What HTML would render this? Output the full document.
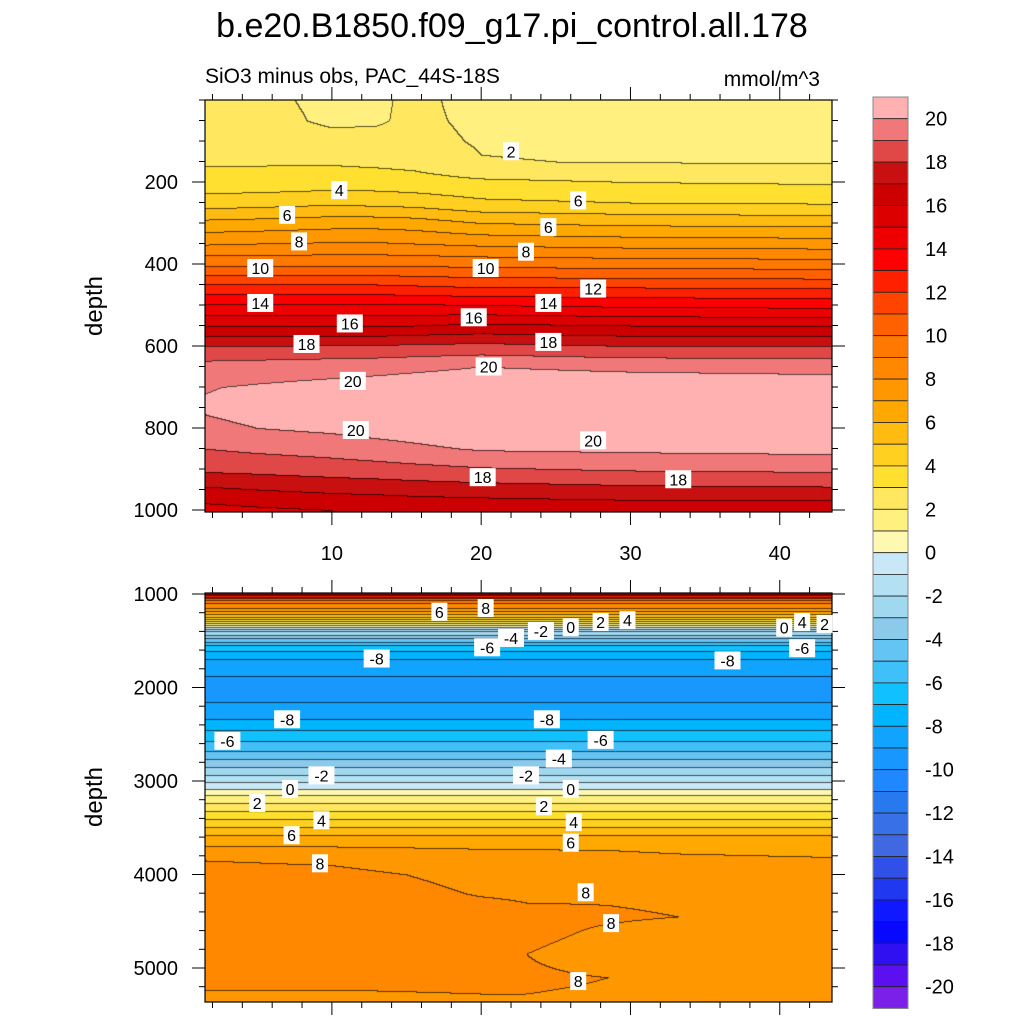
<!DOCTYPE html>
<html><head><meta charset="utf-8"><style>
body{margin:0;background:#fff;width:1024px;height:1024px;overflow:hidden;position:relative;font-family:"Liberation Sans",sans-serif}
canvas{position:absolute}
svg{position:absolute;left:0;top:0}
</style></head><body>
<canvas id="c1" width="627" height="412" style="left:205px;top:100px"></canvas>
<canvas id="c2" width="627" height="409" style="left:205px;top:593px"></canvas>
<svg id="s" width="1024" height="1024">
<text x="512" y="37" font-size="34" text-anchor="middle">b.e20.B1850.f09_g17.pi_control.all.178</text>
<text x="205" y="83" font-size="21">SiO3 minus obs, PAC_44S-18S</text>
<text x="820" y="86" font-size="21" text-anchor="end">mmol/m^3</text>
<text transform="translate(102,306) rotate(-90)" font-size="24" text-anchor="middle">depth</text>
<text transform="translate(102,797) rotate(-90)" font-size="24" text-anchor="middle">depth</text>
</svg>
<script>
const colors=["#7a20e8","#5a10f0","#3010f0","#0808ff","#1018ff","#2038f0","#3050e8","#4068e0","#3870e8","#2878f0","#2088ff","#1898ff","#10a4ff","#00b4ff","#10c0ff","#40c0f8","#64c4f4","#8ccaec","#a0d8f0","#b4e0f4","#c8e8f8","#fff8b0","#fff080","#ffe860","#ffe030","#ffd020","#ffbb10","#ffa800","#ff9800","#ff8800","#ff7800","#ff6000","#ff4400","#ff2000","#ff0000","#ee0000","#dc0000","#cc0000","#c81010","#e04848","#f07878","#ffb0b0"];
// top panel data
const topX=[1.5,5,10,13,15.5,20,30,43.5];
const topDepth=[0,50,100,150,200,250,300,350,400,450,500,550,600,650,700,750,800,850,900,950,1000];
const topVals=[
[2.2,2.3,2.5,2.9,3.4,4.5,6.3,7.9,9.8,12,14.1,15.9,18.0,19.4,19.95,20.1,19.8,19.0,18.2,16.8,15.6],
[2.2,2.3,2.5,2.9,3.4,4.6,6.4,8.0,9.8,12,14.1,15.9,18.0,19.5,20.1,20.3,20.0,19.2,18.3,17.0,15.8],
[1.8,1.85,2.3,2.9,3.5,4.8,6.6,8.1,9.8,12,14.1,15.9,18.1,19.6,20.3,20.5,20.2,19.4,18.5,17.2,16.0],
[1.85,1.9,2.3,2.8,3.5,4.7,6.6,8.1,9.8,12,14.1,15.9,18.1,19.7,20.4,20.6,20.4,19.6,18.6,17.3,16.0],
[2.2,2.2,2.3,2.7,3.4,4.6,6.5,8,9.8,11.9,14.1,16,18.2,19.8,20.5,20.7,20.5,19.8,18.7,17.4,16.1],
[1.7,1.8,1.9,2.05,3.2,4.2,6.0,7.8,9.7,11.7,14.0,16.2,18.3,20.0,20.6,20.8,20.8,20.1,18.9,17.5,16.2],
[1.6,1.7,1.8,1.95,3.0,4.0,5.8,7.6,9.6,11.7,13.8,16.0,18.0,19.8,20.6,20.8,20.8,20.2,19.1,17.7,16.3],
[1.6,1.7,1.8,1.95,2.9,3.9,5.7,7.5,9.5,11.6,13.7,15.9,18.0,19.7,20.5,20.8,20.8,20.3,19.2,17.8,16.3]];
// bottom panel data
const botShallowDepth=[1000,1050,1100,1150,1200,1250,1300,1350,1400,1470,1550,1650,1750,1900,2000,2100,2200,2340,2450,2570,2680,2760,2850,2940,3000,3085,3150,3235,3320,3410,3490,3580];
const botShallowVals=[14,10.5,9,8,6.5,5,2.5,0.3,-2,-4,-6,-7.6,-8.4,-9.1,-9.3,-9.2,-8.8,-8,-7,-6,-5,-4,-3,-2,-1.2,0,1,2,3,4,5,6];
const botX=[1.5,10,20,23,28.5,33.2,43.5];
const botDeepDepth=[3700,3850,4000,4200,4300,4450,4600,4850,5100,5360];
const botDeepVals=[
[7.0,8.0,8.3,8.4,8.4,8.4,8.4,8.35,8.1,7.9],
[7.0,7.9,8.2,8.4,8.4,8.4,8.4,8.35,8.1,7.9],
[6.9,7.5,7.8,7.95,8.1,8.3,8.4,8.3,8.1,7.95],
[6.9,7.4,7.75,7.9,8.0,8.2,8.2,8.0,8.1,7.95],
[6.9,7.3,7.7,7.85,7.98,8.1,7.9,7.7,8.0,7.9],
[6.8,7.2,7.6,7.8,7.9,8.0,7.7,7.6,7.6,7.6],
[6.7,7.1,7.5,7.7,7.8,7.8,7.7,7.6,7.6,7.6]];
const xTicks=[10,20,30,40];
const topYTicks=[200,400,600,800,1000];
const botYTicks=[1000,2000,3000,4000,5000];
const cbLabels=[20,18,16,14,12,10,8,6,4,2,0,-2,-4,-6,-8,-10,-12,-14,-16,-18,-20];

const X0=1.5,X1=43.5,PL=205,PR=832;
const sx=x=>PL+(x-X0)/(X1-X0)*(PR-PL);
const topY=d=>100+d*0.41;
const botY=d=>594+(d-1000)*0.0935;
function lerpArr(xs,ys,v){let i=0;while(i<xs.length-2&&v>xs[i+1])i++;let t=(v-xs[i])/(xs[i+1]-xs[i]);t=Math.max(0,Math.min(1,t));return ys[i]+(ys[i+1]-ys[i])*t;}
function hex(c){return [parseInt(c.substr(1,2),16),parseInt(c.substr(3,2),16),parseInt(c.substr(5,2),16)];}
const rgb=colors.map(hex);
function render(id,w,h,xs,depths,cols,pxToX,pyToD){
 const cv=document.getElementById(id),ctx=cv.getContext('2d'),im=ctx.createImageData(w,h);
 const band=new Int16Array(w*h);
 for(let py=0;py<h;py++){const d=pyToD(py+0.5);const colv=cols.map(c=>lerpArr(depths,c,d));
  for(let px=0;px<w;px++){const v=lerpArr(xs,colv,pxToX(px+0.5));let b=Math.floor(v)+21;b=Math.max(0,Math.min(41,b));band[py*w+px]=b;}}
 for(let i=0;i<w*h;i++){const px=i%w,py=(i/w)|0;let c=rgb[band[i]];let line=(px>0&&band[i-1]!==band[i])||(py>0&&band[i-w]!==band[i]);
  const k=line?0.35:1;im.data[4*i]=c[0]*k;im.data[4*i+1]=c[1]*k;im.data[4*i+2]=c[2]*k;im.data[4*i+3]=255;}
 ctx.putImageData(im,0,0);
}
const pxToX=p=>X0+p/(PR-PL)*(X1-X0);
render('c1',627,412,topX,topDepth,topVals,pxToX,p=>p/0.41);
const botDepth=botShallowDepth.concat(botDeepDepth);
const botCols=botDeepVals.map(c=>botShallowVals.concat(c));
render('c2',627,409,botX,botDepth,botCols,pxToX,p=>1000+(p-1)/0.0935);

const S=document.getElementById('s'),NS='http://www.w3.org/2000/svg';
function el(t,a,p){const e=document.createElementNS(NS,t);for(const k in a)e.setAttribute(k,a[k]);(p||S).appendChild(e);return e;}
[[100,512,topY,topYTicks,50,0,1000,'top'],[593,1002,botY,botYTicks,200,1000,5360,'bottom']].forEach(([t,b,fy,yt,minor,d0,d1,nm])=>{
 const fr=el('rect',{x:PL,y:t,width:PR-PL,height:b-t,fill:'none',stroke:'#000','stroke-width':1.2});
 
 
 for(let x=2;x<=43;x+=2){const M=x%10===0,L=M?13:6;const X=sx(x);
  el('line',{x1:X,x2:X,y1:b,y2:b+L,stroke:'#000','stroke-width':1});
  el('line',{x1:X,x2:X,y1:t,y2:t-L,stroke:'#000','stroke-width':1});}
 for(let d=Math.ceil(d0/minor)*minor;d<=d1;d+=minor){const Y=fy(d);if(Y<t-0.5||Y>b+0.5)continue;const M=yt.includes(d),L=M?13:6;
  el('line',{x1:PL,x2:PL-L,y1:Y,y2:Y,stroke:'#000','stroke-width':1});
  el('line',{x1:PR,x2:PR+L,y1:Y,y2:Y,stroke:'#000','stroke-width':1});}
 yt.forEach(d=>{const tx=el('text',{x:178,y:fy(d)+7,'font-size':20,'text-anchor':'end'});tx.textContent=d;
  
  });
});
xTicks.forEach(x=>{const tx=el('text',{x:sx(x),y:560,'font-size':20,'text-anchor':'middle'});tx.textContent=x;
 
 });
const CB0=97,CBH=21.7;
colors.slice().reverse().forEach((c,i)=>{const r=el('rect',{x:873,y:CB0+i*CBH,width:35,height:CBH,fill:c,stroke:'#222','stroke-width':0.8});
 
 });
el('rect',{x:873,y:CB0,width:35,height:42*CBH,fill:'none',stroke:'#888','stroke-width':1});
cbLabels.forEach(v=>{const i=20-v;const tx=el('text',{x:925,y:CB0+(i+1)*CBH+7,'font-size':20});tx.textContent=v;
 
 });
const topLabels=[[22,125,'2'],[10.5,220,'4'],[26.5,245,'6'],[7,280,'6'],[24.5,310,'6'],[7.8,345,'8'],[23,370,'8'],[5.2,410,'10'],[20.3,410,'10'],[27.5,460,'12'],[5.2,495,'14'],[24.5,495,'14'],[11.2,545,'16'],[19.5,530,'16'],[8.3,595,'18'],[24.5,590,'18'],[11.4,685,'20'],[20.5,650,'20'],[11.6,805,'20'],[27.5,830,'20'],[20.1,920,'18'],[33.2,925,'18']];
topLabels.forEach(([x,d,s])=>label(sx(x),topY(d),s));
const botLabels=[[17.2,1190,'6'],[20.3,1150,'8'],[29.8,1280,'4'],[28,1300,'2'],[26,1355,'0'],[40.3,1360,'0'],[41.5,1300,'4'],[43,1320,'2'],[41.5,1580,'-6'],[24,1395,'-2'],[22,1470,'-4'],[20.4,1570,'-6'],[13,1690,'-8'],[36.5,1710,'-8'],[7,2340,'-8'],[24.4,2340,'-8'],[3,2570,'-6'],[28,2560,'-6'],[25.2,2760,'-4'],[9.3,2940,'-2'],[23,2940,'-2'],[7.2,3085,'0'],[26,3085,'0'],[5,3235,'2'],[24.2,3270,'2'],[9.3,3420,'4'],[26.2,3440,'4'],[7.3,3580,'6'],[26,3660,'6'],[9.2,3880,'8'],[27,4190,'8'],[28.7,4520,'8'],[26.5,5140,'8']];
botLabels.forEach(([x,d,s])=>label(sx(x),botY(d),s));
function label(X,Y,s){const w=s.length*10+6;
 const r=el('rect',{x:X-w/2,y:Y-9,width:w,height:18,fill:'#fff'});
 
 
 const t=el('text',{x:X,y:Y+6,'font-size':16,'text-anchor':'middle'});t.textContent=s;
 
 }
</script>
</body></html>
